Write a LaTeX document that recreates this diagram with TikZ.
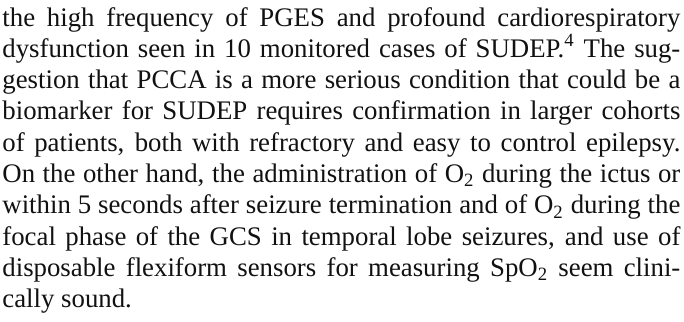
\documentclass[tikz,border=0pt]{standalone}
\usepackage{fontspec}
\setmainfont{Liberation Serif}
\usepackage{xcolor,tikz}
\definecolor{ink}{HTML}{111111}

\begin{document}
\begin{tikzpicture}[x=1pt,y=1pt]
\useasboundingbox (0,0) rectangle (342,-160.5);
\node (para)[anchor=base west,inner sep=0pt,text=ink] at (1,-13){\parbox[t]{339pt}{%
\fontsize{13.4}{15.65}\selectfont
the high frequency of PGES and profound cardiorespiratory\linebreak
dysfunction seen in 10 monitored cases of SUDEP.\textsuperscript{4} The sug-\linebreak
gestion that PCCA is a more serious condition that could be a\linebreak
biomarker for SUDEP requires confirmation in larger cohorts\linebreak
of patients, both with refractory and easy to control epilepsy.\linebreak
On the other hand, the administration of O\textsubscript{2} during the ictus or\linebreak
within 5 seconds after seizure termination and of O\textsubscript{2} during the\linebreak
focal phase of the GCS in temporal lobe seizures, and use of\linebreak
disposable flexiform sensors for measuring SpO\textsubscript{2} seem clini-\linebreak
cally sound.}};
\end{tikzpicture}
\end{document}
